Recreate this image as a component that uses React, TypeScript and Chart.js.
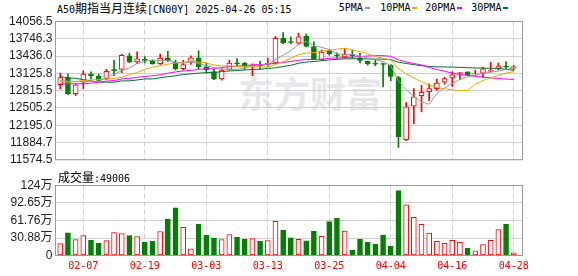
import { useEffect, useRef } from "react";
import { Chart, registerables } from "chart.js";
Chart.register(...registerables);

// ---------- data ----------
const dates = [
  "02-04", "02-05", "02-06", "02-07", "02-10", "02-11", "02-12", "02-13", "02-14", "02-17",
  "02-18", "02-19", "02-20", "02-21", "02-24", "02-25", "02-26", "02-27", "02-28", "03-03",
  "03-04", "03-05", "03-06", "03-07", "03-10", "03-11", "03-12", "03-13", "03-14", "03-17",
  "03-18", "03-19", "03-20", "03-21", "03-24", "03-25", "03-26", "03-27", "03-28", "03-31",
  "04-01", "04-02", "04-03", "04-04", "04-07", "04-08", "04-09", "04-10", "04-11", "04-14",
  "04-15", "04-16", "04-17", "04-18", "04-21", "04-22", "04-23", "04-24", "04-25", "04-28",
];
const opens = [
  12922, 13048, 12761, 12968, 13111, 13077, 13025, 13186, 13197, 13439,
  13330, 13370, 13347, 13301, 13404, 13330, 13209, 13330, 13404, 13244,
  13157, 13025, 13197, 13307, 13307, 13244, 13278, 13284, 13312, 13755,
  13691, 13668, 13789, 13605, 13370, 13525, 13456, 13422, 13462, 13404,
  13347, 13301, 13301, 13272, 13048, 11934, 12537, 12726, 12795, 12853,
  12968, 13042, 13123, 13152, 13100, 13129, 13163, 13209, 13255, 13227,
];
const highs = [
  13129, 13111, 12938, 13169, 13152, 13111, 13197, 13358, 13473, 13485,
  13513, 13427, 13370, 13473, 13519, 13358, 13358, 13439, 13531, 13312,
  13197, 13197, 13358, 13393, 13324, 13295, 13341, 13399, 13789, 13858,
  13783, 13847, 13830, 13691, 13542, 13554, 13496, 13571, 13542, 13485,
  13347, 13358, 13312, 13284, 13071, 12600, 12853, 12910, 12939, 13025,
  13054, 13152, 13146, 13152, 13186, 13238, 13324, 13312, 13335, 13266,
];
const lows = [
  12847, 12744, 12726, 12853, 13025, 12985, 13008, 13083, 13140, 13312,
  13301, 13312, 13289, 13284, 13335, 13186, 13186, 13284, 13209, 13129,
  13014, 13002, 13180, 13266, 13198, 13083, 13209, 13255, 13301, 13657,
  13657, 13646, 13600, 13370, 13358, 13450, 13393, 13399, 13393, 13312,
  13272, 13266, 12881, 12996, 11796, 11920, 12221, 12433, 12634, 12824,
  12933, 12893, 13014, 13083, 13083, 13054, 13152, 13186, 13198, 13186,
];
const closes = [
  13048, 12761, 12922, 13111, 13082, 12997, 13163, 13174, 13450, 13330,
  13387, 13358, 13295, 13399, 13353, 13209, 13284, 13404, 13244, 13186,
  13025, 13186, 13312, 13295, 13255, 13266, 13262, 13307, 13755, 13674,
  13680, 13783, 13611, 13381, 13508, 13473, 13439, 13473, 13445, 13358,
  13301, 13290, 13284, 13071, 11991, 12525, 12703, 12784, 12853, 12951,
  13031, 13100, 13140, 13089, 13111, 13209, 13174, 13255, 13238, 13244,
];
const ma5 = [
  13000, 12985, 12975, 12980, 12985, 12975, 13055, 13105, 13173, 13223,
  13301, 13340, 13364, 13354, 13358, 13323, 13308, 13330, 13299, 13265,
  13229, 13209, 13191, 13201, 13215, 13263, 13278, 13277, 13369, 13453,
  13536, 13640, 13701, 13626, 13593, 13551, 13482, 13455, 13468, 13438,
  13403, 13373, 13336, 13261, 12987, 12832, 12715, 12615, 12571, 12763,
  12864, 12944, 13015, 13062, 13094, 13130, 13145, 13168, 13197, 13224,
];
const ma10 = [
  12979, 12968, 12979, 12997, 13008, 13014, 13025, 13037, 13054, 13104,
  13138, 13198, 13235, 13264, 13291, 13312, 13324, 13347, 13327, 13312,
  13276, 13259, 13261, 13250, 13240, 13246, 13244, 13235, 13286, 13335,
  13400, 13460, 13490, 13498, 13524, 13544, 13561, 13578, 13547, 13516,
  13477, 13428, 13396, 13365, 13213, 13118, 13044, 12976, 12916, 12875,
  12848, 12830, 12815, 12817, 12929, 12997, 13045, 13092, 13130, 13159,
];
const ma20 = [
  12939, 12939, 12939, 12939, 12951, 12968, 12985, 12997, 13025, 13037,
  13054, 13071, 13083, 13100, 13129, 13152, 13169, 13180, 13198, 13208,
  13207, 13229, 13248, 13257, 13266, 13279, 13284, 13291, 13307, 13324,
  13338, 13360, 13376, 13374, 13382, 13395, 13403, 13407, 13417, 13426,
  13439, 13444, 13443, 13432, 13369, 13331, 13303, 13277, 13232, 13196,
  13163, 13129, 13106, 13091, 13071, 13058, 13045, 13034, 13023, 13017,
];
const ma30 = [
  13071, 13042, 13037, 13014, 12991, 12968, 12968, 12968, 12991, 12991,
  13008, 13025, 13025, 13048, 13065, 13083, 13106, 13117, 13129, 13140,
  13140, 13157, 13169, 13175, 13186, 13198, 13198, 13215, 13226, 13250,
  13271, 13306, 13329, 13337, 13352, 13367, 13376, 13387, 13387, 13388,
  13384, 13382, 13382, 13371, 13326, 13303, 13283, 13263, 13250, 13242,
  13242, 13239, 13234, 13227, 13222, 13220, 13217, 13215, 13198, 13183,
];
// volume in 万 (10k)
const volumes = [
  20.9, 40.0, 28.0, 35.2, 26.9, 21.5, 26.3, 40.6, 38.8, 35.2,
  33.4, 23.3, 25.1, 42.4, 64.4, 84.1, 49.5, 11.9, 55.5, 35.8,
  30.4, 28.0, 37.0, 32.2, 28.6, 29.8, 25.1, 26.3, 60.3, 44.8,
  31.0, 28.6, 25.7, 43.0, 34.0, 59.7, 66.2, 43.0, 9.0, 28.6,
  23.3, 19.7, 35.8, 16.1, 114.6, 89.5, 67.4, 54.9, 39.4, 25.1,
  21.5, 26.9, 23.3, 12.5, 8.4, 19.1, 26.9, 45.9, 55.5, 4.9006,
];
// 1 = red (rise) volume bar, 0 = green
const volumeRise = [
  1, 0, 1, 1, 0, 0, 1, 1, 1, 0,
  1, 0, 0, 1, 0, 0, 1, 1, 0, 0,
  0, 1, 1, 0, 0, 1, 0, 1, 1, 0,
  0, 1, 0, 0, 1, 0, 0, 1, 0, 0,
  0, 0, 0, 0, 0, 1, 1, 1, 1, 1,
  1, 1, 1, 0, 1, 1, 1, 1, 0, 1,
];
const priceTicks = [11574.5, 11884.7, 12195.0, 12505.2, 12815.5, 13125.8, 13436.0, 13746.3, 14056.5];
const volumeTicks = [0, 30.88, 61.76, 92.65, 123.53];
const volumeTickLabels = ["0", "30.88万", "61.76万", "92.65万", "124万"];
const xTickIndex = [3, 11, 19, 27, 35, 43, 51, 59];
const maNames = ["5PMA", "10PMA", "20PMA", "30PMA"];

// ---------- style ----------
const RED = "#ff0000";
const GREEN = "#008000";
const MA_COLORS = ["#999999", "#f5a300", "#ff00ff", "#006f35"];
const GRID = "#d0d0d0";
const FRAME = "#999999";
const W = 578;
const MAIN_H = 170;
const VOL_TOP = 172;
const VOL_H = 104;
const XMIN = -0.618;
const XMAX = 60.14;
const MONO = '"DejaVu Sans Mono", monospace';
const CJK = '"Noto Sans CJK SC", sans-serif';
const SANS = '"Liberation Sans", Arial, "Noto Sans CJK SC", sans-serif';

const framePlugin = {
  id: "frame",
  afterDraw(chart: any) {
    const { left, top, right, bottom } = chart.chartArea;
    const ctx = chart.ctx;
    ctx.save();
    ctx.strokeStyle = FRAME;
    ctx.lineWidth = 1;
    ctx.strokeRect(left, top, right - left, bottom - top);
    ctx.restore();
  },
};

export default function App() {
  const mainRef = useRef<HTMLCanvasElement>(null);
  const volRef = useRef<HTMLCanvasElement>(null);

  useEffect(() => {
    Chart.defaults.font.family = SANS;
    const rise = closes.map((c, i) => c > opens[i]);
    const xScale = (showLabels: boolean, h: number) => ({
      type: "linear",
      min: XMIN,
      max: XMAX,
      offset: false,
      afterBuildTicks: (s: any) => {
        s.ticks = xTickIndex.map((v) => ({ value: v }));
      },
      afterFit: (s: any) => {
        s.height = h;
      },
      ticks: {
        display: showLabels,
        autoSkip: false,
        maxRotation: 0,
        color: RED,
        padding: 5,
        font: { family: MONO, size: 10 },
        callback: (v: any) => dates[Number(v)],
      },
      grid: { color: GRID, drawTicks: false, tickLength: 0, offset: false },
      border: { display: false, dash: [5, 3] },
    });

    const mainChart = new Chart(mainRef.current!, {
      type: "bar",
      data: {
        datasets: [
          ...[ma5, ma10, ma20, ma30].map((arr, k) => ({
            type: "line" as const,
            data: arr.map((v, i) => ({ x: i, y: v })),
            borderColor: MA_COLORS[k],
            borderWidth: 1,
            pointRadius: 0,
            tension: 0,
            order: 0,
          })),
          {
            type: "bar" as const,
            data: opens.map((o, i) => ({ x: i, y: [o, closes[i]] })),
            backgroundColor: rise.map((r) => (r ? "#ffffff" : GREEN)),
            borderColor: rise.map((r) => (r ? RED : GREEN)),
            borderWidth: 1,
            borderSkipped: false,
            barThickness: 5,
            minBarLength: 1,
            grouped: false,
            order: 1,
          },
          {
            type: "bar" as const,
            data: lows.map((l, i) => ({ x: i, y: [l, highs[i]] })),
            backgroundColor: rise.map((r) => (r ? RED : GREEN)),
            borderWidth: 0,
            barThickness: 1,
            grouped: false,
            order: 2,
          },
        ] as any,
      },
      options: {
        responsive: false,
        animation: false,
        layout: { padding: { left: 0, right: W - 522.5, top: 21.5, bottom: MAIN_H - 165.5 } },
        plugins: { legend: { display: false }, tooltip: { enabled: false } },
        scales: {
          x: xScale(false, 0) as any,
          y: {
            type: "linear",
            min: 11574.5,
            max: 14056.5,
            afterBuildTicks: (s: any) => {
              s.ticks = priceTicks.map((v) => ({ value: v }));
            },
            afterFit: (s: any) => {
              s.width = 55.5;
            },
            ticks: {
              padding: 3,
              color: "#222",
              font: { size: 12 },
              callback: (v: any) => Number(v).toFixed(1),
            },
            grid: { color: GRID, drawTicks: false },
            border: { display: false },
          },
        },
      },
      plugins: [framePlugin],
    });

    const volChart = new Chart(volRef.current!, {
      type: "bar",
      data: {
        datasets: [
          {
            data: volumes.map((v, i) => ({ x: i, y: v })),
            backgroundColor: volumeRise.map((r) => (r ? "#ffffff" : GREEN)),
            borderColor: volumeRise.map((r) => (r ? RED : GREEN)),
            borderWidth: 1,
            borderSkipped: false,
            barThickness: 5,
            grouped: false,
          },
        ] as any,
      },
      options: {
        responsive: false,
        animation: false,
        layout: { padding: { left: 0, right: W - 522.5, top: 185.5 - VOL_TOP, bottom: 0 } },
        plugins: { legend: { display: false }, tooltip: { enabled: false } },
        scales: {
          x: xScale(true, VOL_H - (255.5 - VOL_TOP)) as any,
          y: {
            type: "linear",
            min: 0,
            max: 123.53,
            afterBuildTicks: (s: any) => {
              s.ticks = volumeTicks.map((v) => ({ value: v }));
            },
            afterFit: (s: any) => {
              s.width = 55.5;
            },
            ticks: {
              padding: 3,
              color: "#222",
              font: { size: 12 },
              callback: (v: any) => {
                const k = volumeTicks.indexOf(Number(v));
                return k >= 0 ? volumeTickLabels[k] : "";
              },
            },
            grid: { color: GRID, drawTicks: false },
            border: { display: false },
          },
        },
      },
      plugins: [framePlugin],
    });

    return () => {
      mainChart.destroy();
      volChart.destroy();
    };
  }, []);

  const legendLeft = [338.7, 380.3, 425.3, 471.3];

  return (
    <div style={{ position: "absolute", left: 0, top: 0, width: W, height: 276, background: "#fff", overflow: "hidden" }}>
      <div
        style={{
          position: "absolute", left: 238, top: 70, fontFamily: CJK, fontWeight: 700,
          fontSize: 36, lineHeight: "44px", color: "#e7e7eb", whiteSpace: "nowrap", letterSpacing: 0,
        }}
      >
        东方财富
      </div>
      <div style={{ position: "absolute", left: 57, top: 1, height: 14, lineHeight: "14px", whiteSpace: "pre", color: "#000" }}>
        <span style={{ fontFamily: MONO, fontSize: 10 }}>A50</span>
        <span style={{ fontFamily: CJK, fontSize: 12 }}>期指当月连续</span>
        <span style={{ fontFamily: MONO, fontSize: 10 }}>[CN00Y] 2025-04-26 05:15</span>
      </div>
      {maNames.map((n, k) => (
        <div key={n} style={{ position: "absolute", left: legendLeft[k], top: 1, height: 14, lineHeight: "14px", whiteSpace: "pre", display: "flex", alignItems: "center" }}>
          <span style={{ fontFamily: MONO, fontSize: 10, color: "#000" }}>{n}</span>
          <span style={{ display: "inline-block", width: 5, height: 2, marginLeft: 2, background: MA_COLORS[k] }} />
        </div>
      ))}
      <canvas ref={mainRef} width={W} height={MAIN_H} style={{ position: "absolute", left: 0, top: 0 }} />
      <div style={{ position: "absolute", left: 58, top: 170, height: 14, lineHeight: "14px", whiteSpace: "pre", color: "#000" }}>
        <span style={{ fontFamily: CJK, fontSize: 12 }}>成交量</span>
        <span style={{ fontFamily: MONO, fontSize: 10 }}>:49006</span>
      </div>
      <canvas ref={volRef} width={W} height={VOL_H} style={{ position: "absolute", left: 0, top: VOL_TOP }} />
    </div>
  );
}
